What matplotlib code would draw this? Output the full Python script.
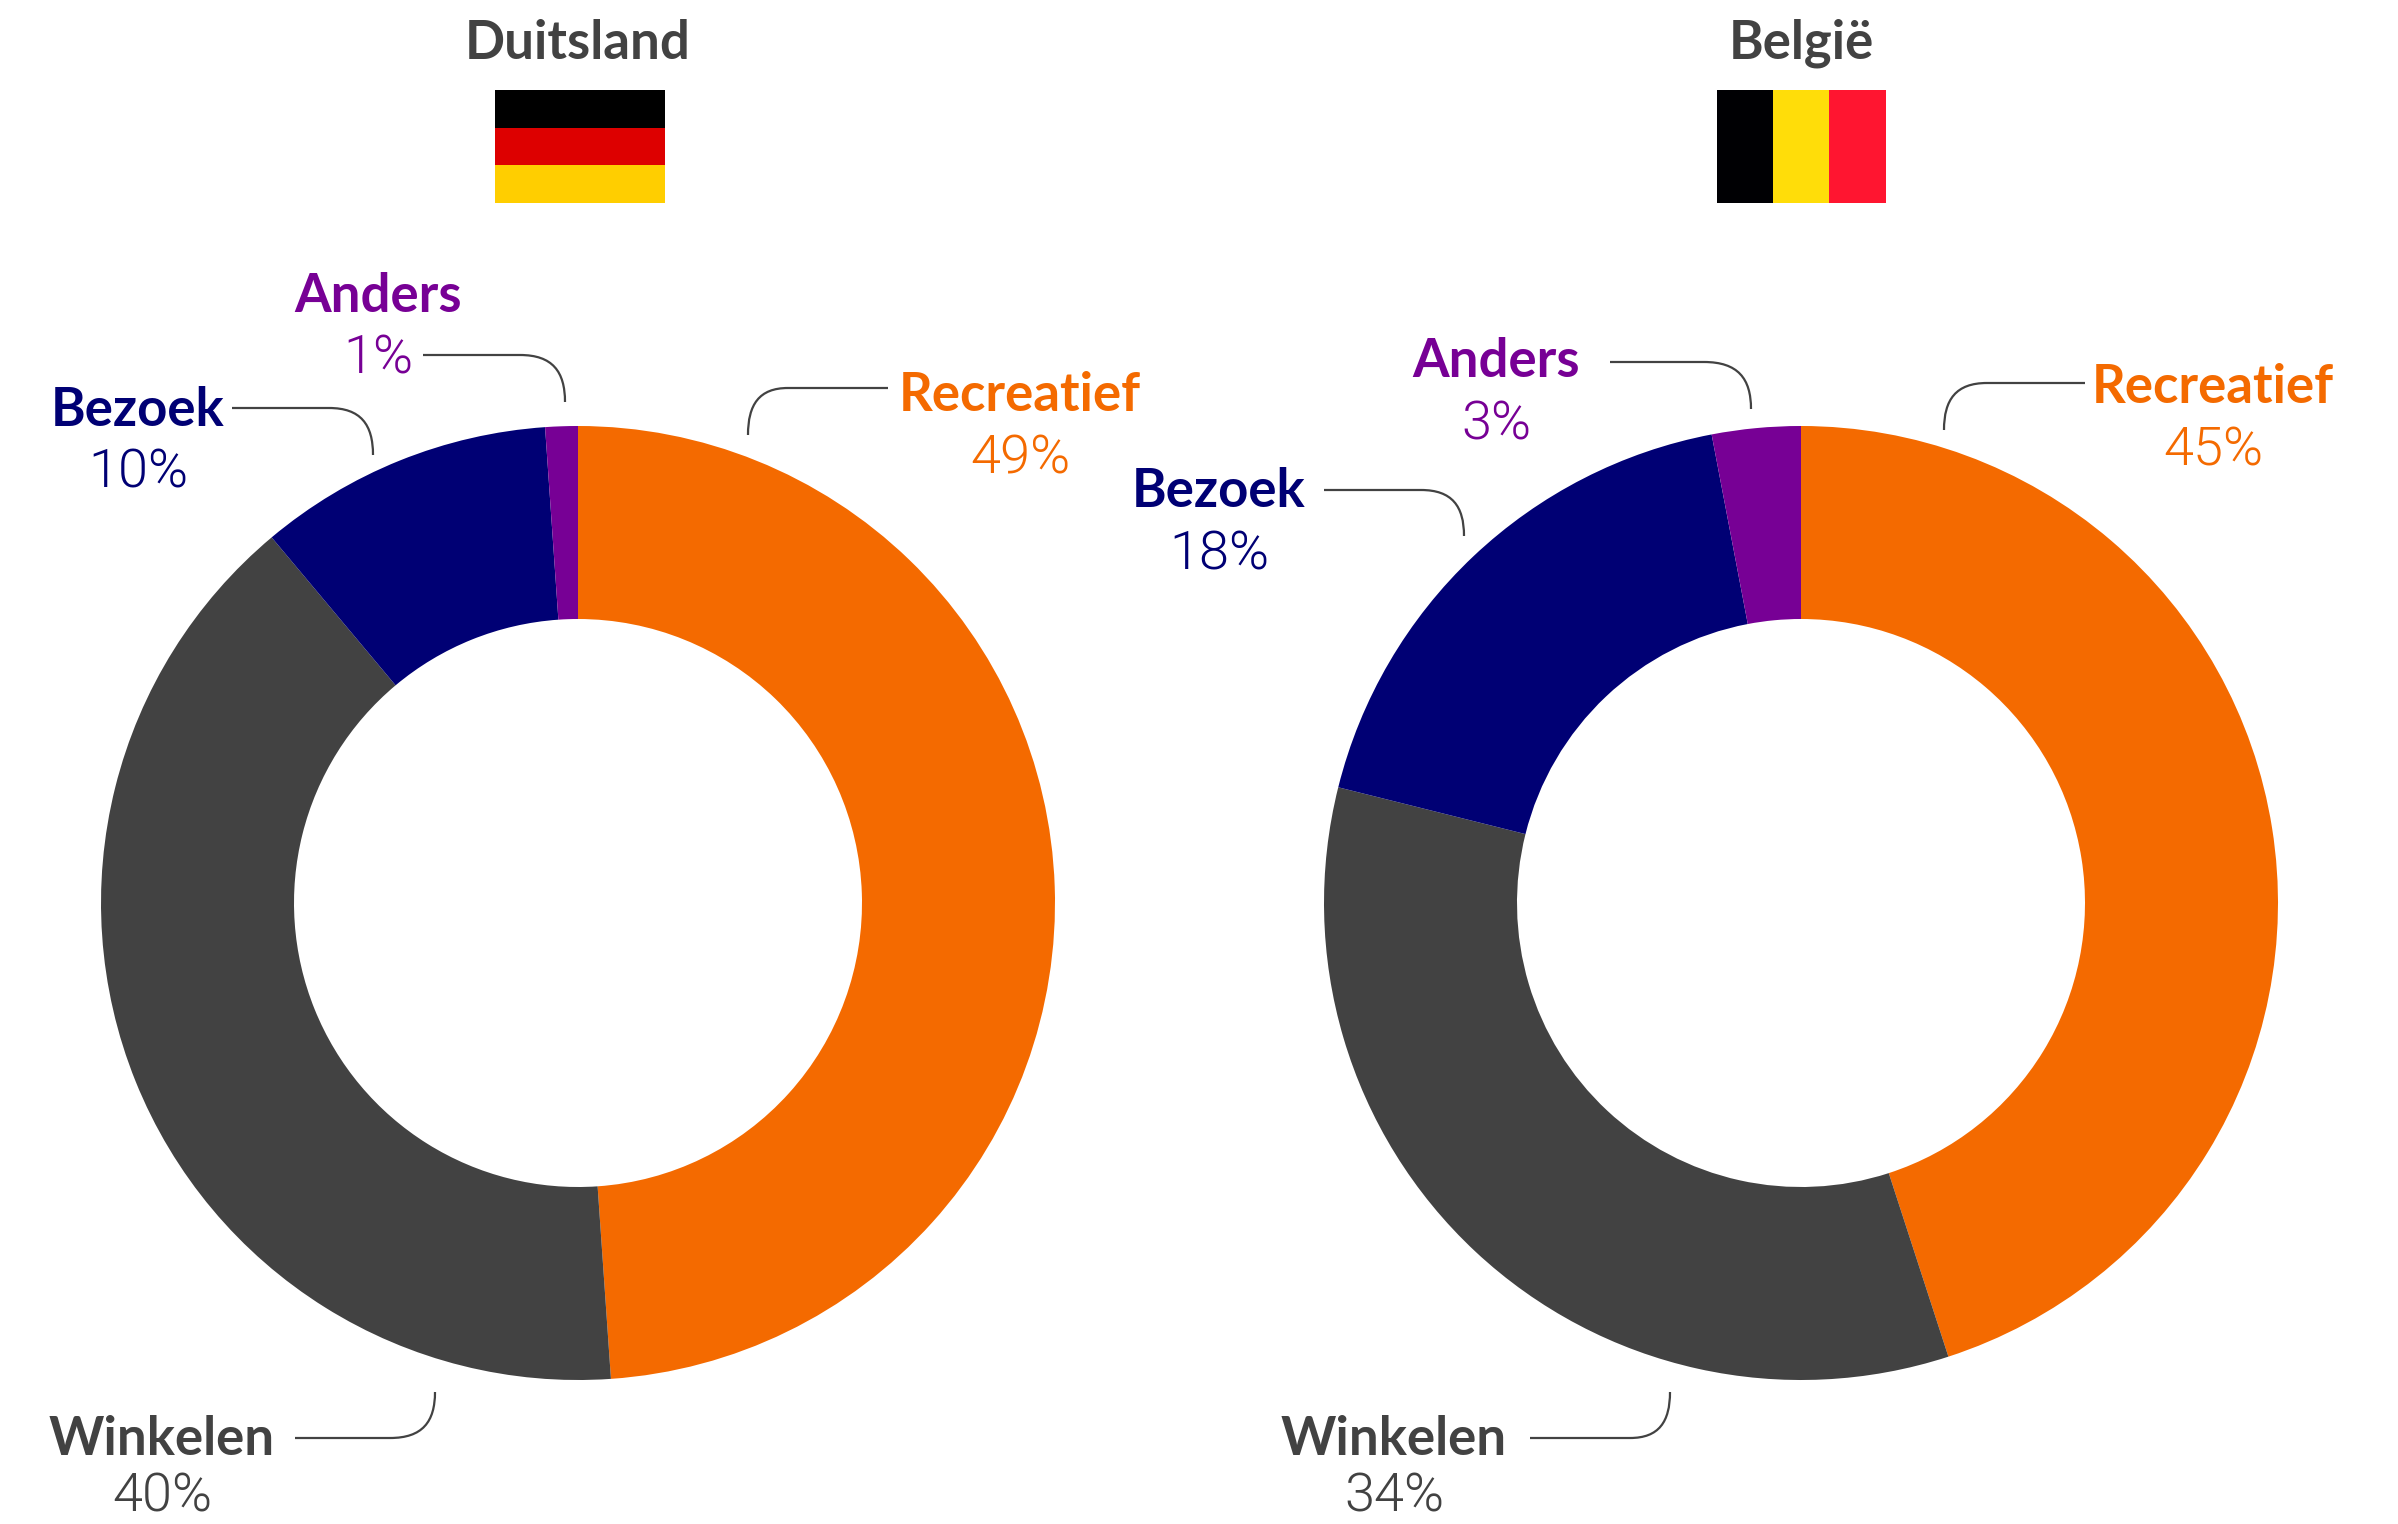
import matplotlib
matplotlib.use("Agg")
import matplotlib.pyplot as plt
from matplotlib.patches import PathPatch, Rectangle
from matplotlib.path import Path

plt.rcParams['font.family'] = ['Lato', 'DejaVu Sans']

W, H = 2398, 1524

categories = ["Recreatief", "Winkelen", "Bezoek", "Anders"]
colors = ["#F46A00", "#424242", "#000074", "#770095"]
# slice sizes, printed labels are rounded
duitsland = [48.9, 40, 10, 1.1]
belgie = [45, 33.9, 18.1, 3]
duitsland_labels = ["49%", "40%", "10%", "1%"]
belgie_labels = ["45%", "34%", "18%", "3%"]

# label positions in image pixels: centre x, baseline of name, baseline of percentage
labels_de = [(1020, 411, 474), (162, 1455, 1511), (138, 426, 488), (378, 312, 374)]
labels_be = [(2213, 403, 466), (1394, 1455, 1511), (1219, 507, 569), (1496, 377, 440)]

# leader lines: start x, y, x where the bend starts, end x, y
leaders_de = [(888, 388, 788, 748, 435), (295, 1438, 390, 435, 1392),
              (232, 408, 329, 373, 455), (423, 355, 520, 565, 402)]
leaders_be = [(2085, 383, 1987, 1944, 430), (1530, 1438, 1630, 1670, 1392),
              (1324, 490, 1421, 1464, 536), (1610, 362, 1704, 1751, 409)]

LEADER = "#424242"
OUTER, INNER = 477, 284
CY = 903


def py(y):
    return H - y


def draw_leader(ax, x0, y0, x1, xe, ye):
    verts = [(x0, py(y0)), (x1, py(y0)),
             (x1 + 0.72 * (xe - x1), py(y0)),
             (xe, py(y0 + 0.35 * (ye - y0))),
             (xe, py(ye))]
    codes = [Path.MOVETO, Path.LINETO, Path.CURVE4, Path.CURVE4, Path.CURVE4]
    ax.add_patch(PathPatch(Path(verts, codes), fc='none', ec=LEADER, lw=1.6, capstyle='butt'))


def draw_donut(ax, cx, values, pct, labels, leaders, title):
    ax.pie(values, colors=colors, startangle=90, counterclock=False, normalize=True,
           center=(cx, py(CY)), radius=OUTER, frame=True,
           wedgeprops=dict(width=OUTER - INNER, linewidth=0))
    ax.text(cx, py(59), title, ha='center', va='baseline', fontsize=38,
            fontweight='bold', color="#424242")
    for name, p, color, (x, y1, y2) in zip(categories, pct, colors, labels):
        ax.text(x, py(y1), name, ha='center', va='baseline', fontsize=38,
                fontweight='bold', color=color)
        ax.text(x, py(y2), p, ha='center', va='baseline', fontsize=39,
                family='Roboto', fontweight=300, color=color)
    for x0, y0, x1, xe, ye in leaders:
        draw_leader(ax, x0, y0, x1, xe, ye)


fig = plt.figure(figsize=(W / 100, H / 100), dpi=100, facecolor='white')
ax = fig.add_axes([0, 0, 1, 1])

draw_donut(ax, 578, duitsland, duitsland_labels, labels_de, leaders_de, "Duitsland")
draw_donut(ax, 1801, belgie, belgie_labels, labels_be, leaders_be, "België")

# flags
for y0, y1, c in [(90, 128, "#000000"), (128, 165, "#DD0000"), (165, 203, "#FFCE00")]:
    ax.add_patch(Rectangle((495, py(y1)), 170, y1 - y0, fc=c, lw=0))
for x0, x1, c in [(1717, 1773, "#000003"), (1773, 1829, "#FFDD09"), (1829, 1886, "#FF1530")]:
    ax.add_patch(Rectangle((x0, py(203)), x1 - x0, 113, fc=c, lw=0))

ax.set_xlim(0, W)
ax.set_ylim(0, H)
ax.set_aspect('equal')
ax.axis('off')

fig.savefig("out.png", dpi=100)
